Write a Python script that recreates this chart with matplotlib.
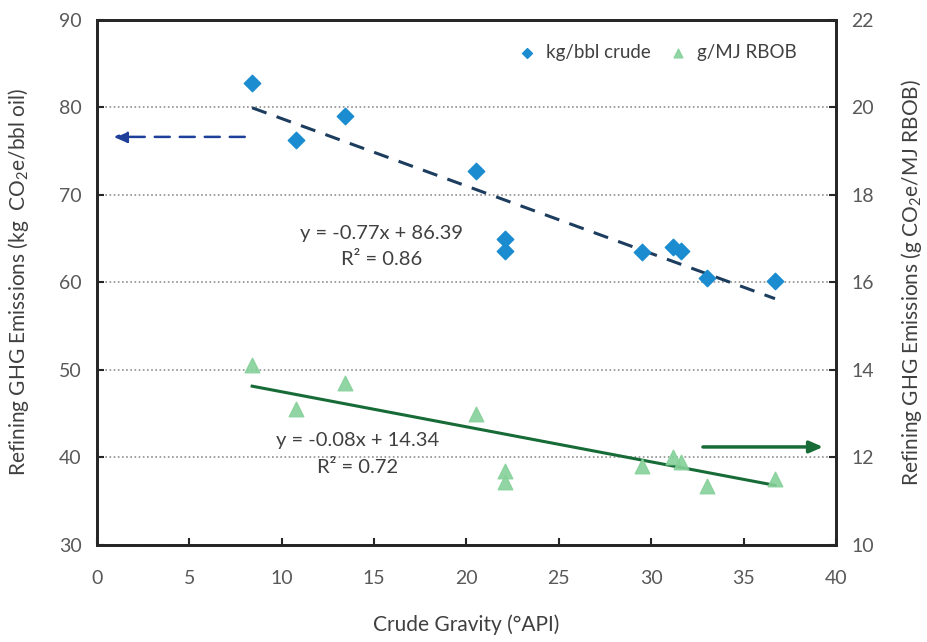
import numpy as np
from matplotlib import pyplot as plt

plt.rcParams['font.family'] = ['Lato', 'DejaVu Sans']
plt.rcParams['mathtext.fontset'] = 'custom'
plt.rcParams['mathtext.rm'] = 'Lato'

# crude gravity (deg API) of each refinery case
api = [8.4, 10.8, 13.4, 20.5, 22.1, 22.1, 29.5, 31.2, 31.6, 33.0, 36.7]
# kg CO2e / bbl crude (left axis)
kg_bbl = [82.8, 76.2, 79.0, 72.7, 64.9, 63.6, 63.5, 64.0, 63.6, 60.5, 60.1]
# g CO2e / MJ RBOB (right axis)
g_mj = [14.1, 13.1, 13.7, 13.0, 11.7, 11.45, 11.8, 12.0, 11.9, 11.35, 11.5]

# trendline coefficients as printed on the chart
fit_kg = (-0.77, 86.39, 0.86)
fit_g = (-0.08, 14.34, 0.72)

TXT = '#404040'
BLUE = '#1a8ccf'
GREEN = '#86d19a'

fig = plt.figure(figsize=(9.27, 6.42), dpi=100)
ax = fig.add_axes([0.1046, 0.151, 0.7972, 0.8186])
ax2 = ax.twinx()

ax.set_xlim(0, 40)
ax.set_ylim(30, 90)
ax2.set_ylim(10, 22)
ax.set_xticks(np.arange(0, 41, 5))
ax.set_yticks(np.arange(30, 91, 10))
ax2.set_yticks(np.arange(10, 23, 2))

for a in (ax, ax2):
	for s in a.spines.values():
		s.set_color('#262626')
		s.set_linewidth(2)
	a.tick_params(direction='in', length=5, width=1.5, color='#262626',
		labelsize=14, labelcolor='#595959', pad=11)
ax.tick_params(axis='x', pad=18)

ax.yaxis.grid(True, linestyle=(0, (1, 1.5)), color='#909090', linewidth=1.2)
ax.set_axisbelow(True)

# trendlines
xs = np.array([min(api), max(api)])
ax.plot(xs, fit_kg[0] * xs + fit_kg[1], color='#1c3d5e', lw=2.2, ls=(0, (5, 3.5)), zorder=2)
ax2.plot(xs, fit_g[0] * xs + fit_g[1] - 0.04, color='#176b37', lw=2.2, zorder=2)

ax.scatter(api, kg_bbl, marker='D', s=70, color=BLUE, zorder=3, label='kg/bbl crude')
ax2.scatter(api, g_mj, marker='^', s=110, color=GREEN, alpha=0.9, zorder=3, label='g/MJ RBOB')

# axis pointer arrows
ax.annotate('', xy=(0.9, 76.6), xytext=(8.0, 76.6),
	arrowprops=dict(arrowstyle='-|>,head_length=0.8,head_width=0.35', color='#1e3f9a',
		lw=1.8, ls=(0, (6, 4)), shrinkA=0, shrinkB=0))
ax2.annotate('', xy=(39.3, 12.24), xytext=(32.8, 12.24),
	arrowprops=dict(arrowstyle='-|>,head_length=0.8,head_width=0.35', color='#176b37',
		lw=2.5, shrinkA=0, shrinkB=0))

ax.text(15.4, 65.6, 'y = %.2fx + %.2f' % (fit_kg[0], fit_kg[1]), ha='center', va='center',
	fontsize=14.5, color=TXT)
ax.text(15.4, 62.6, 'R² = %.2f' % fit_kg[2], ha='center', va='center', fontsize=14.5, color=TXT)
ax.text(14.1, 41.9, 'y = %.2fx + %.2f' % (fit_g[0], fit_g[1]), ha='center', va='center',
	fontsize=14.5, color=TXT)
ax.text(14.1, 38.9, 'R² = %.2f' % fit_g[2], ha='center', va='center', fontsize=14.5, color=TXT)

ax.set_xlabel('Crude Gravity (°API)', fontsize=15, color=TXT, labelpad=20)
ax.set_ylabel('Refining GHG Emissions (kg  CO$_2$e/bbl oil)', fontsize=15, color=TXT, labelpad=20)
ax2.set_ylabel('Refining GHG Emissions (g CO$_2$e/MJ RBOB)', fontsize=15, color=TXT, labelpad=18)

h1, l1 = ax.get_legend_handles_labels()
h2, l2 = ax2.get_legend_handles_labels()
leg = ax2.legend(h1 + h2, l1 + l2, loc='upper right', bbox_to_anchor=(0.97, 0.985), ncol=2,
	frameon=False, fontsize=13.5, handletextpad=0.0, columnspacing=0.5, markerscale=0.6,
	labelcolor=TXT)

fig.savefig('out.png', dpi=100)
